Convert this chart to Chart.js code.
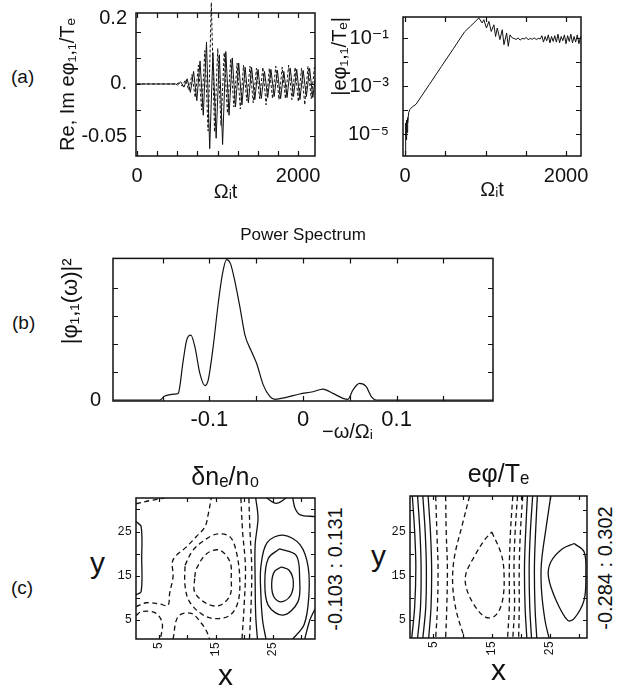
<!DOCTYPE html>
<html><head><meta charset="utf-8">
<script src="https://cdn.jsdelivr.net/npm/chart.js@4/dist/chart.umd.min.js"></script>
<style>
html,body{margin:0;padding:0;background:#fff;}
body{width:617px;height:688px;overflow:hidden;position:relative;font-family:'Liberation Sans',Arial,sans-serif;color:#111;}
canvas{position:absolute;}
.t{position:absolute;white-space:nowrap;line-height:1;}
.rot{transform:translate(-50%,-50%) rotate(-90deg);}
</style></head><body>
<div class="t" style="left:11px;top:67px;font-size:19px">(a)</div>
<div class="t" style="left:12px;top:313px;font-size:19px">(b)</div>
<div class="t" style="left:11px;top:578px;font-size:19px">(c)</div>
<div class="t" style="left:90px;top:548px;font-size:30px">y</div>
<div class="t" style="left:371px;top:541px;font-size:30px">y</div>
<div class="t rot" style="left:335px;top:569px;font-size:20px">-0.103 : 0.131</div>
<div class="t rot" style="left:605px;top:568px;font-size:20px">-0.284 : 0.302</div>
<canvas id="a1" width="280" height="205" style="left:40px;top:0px"></canvas>
<canvas id="a2" width="297" height="205" style="left:320px;top:0px"></canvas>
<canvas id="b" width="520" height="225" style="left:40px;top:220px"></canvas>
<canvas id="c1" width="260" height="237" style="left:60px;top:455px"></canvas>
<canvas id="c2" width="260" height="232" style="left:340px;top:455px"></canvas>
<script>
// ---------- (a) left: Re (solid) and Im (dashed) of e*phi_11/Te vs Omega_i t ----------
const reT = [0,480,503,543,583,623,663,703,743,783,823,863,903,943,983,1023,1063,1103,1143,1183,1223,1263,1303,1343,1383,1423,1463,1503,1543,1583,1623,1663,1703,1743,1783,1823,1863,1903,1943,1983,2023,2063,2103,2143,2183,2210];
const reV = [0,0,-0.001,0.002,-0.003,0.005,-0.008,0.012,-0.016,0.022,-0.030,0.040,-0.062,0.030,-0.052,0.028,-0.058,0.031,-0.030,0.025,-0.022,0.020,-0.020,0.016,-0.018,0.016,-0.015,0.014,-0.014,0.012,-0.013,0.014,-0.012,0.013,-0.014,0.012,-0.013,0.015,-0.012,0.014,-0.015,0.013,-0.012,0.015,-0.013,0.004];
const imT = [0,480,523,563,603,643,683,723,763,803,843,883,923,963,1003,1043,1083,1123,1163,1203,1243,1283,1323,1363,1403,1443,1483,1523,1563,1603,1643,1683,1723,1763,1803,1843,1883,1923,1963,2003,2043,2083,2123,2163,2203];
const imV = [0,0,0.001,-0.002,0.004,-0.006,0.009,-0.013,0.018,-0.025,0.032,-0.045,0.078,-0.046,0.034,-0.040,0.030,-0.028,0.024,-0.022,0.020,-0.024,0.018,-0.016,0.017,-0.018,0.015,-0.014,0.016,-0.020,0.015,-0.014,0.017,-0.015,0.016,-0.014,0.018,-0.015,0.016,-0.017,0.015,-0.020,0.017,-0.014,0.016];
const a1XTicks = [0,2000], a1XLabels = ['0','2000'];
const a1YTicks = [-0.05,0,0.0625], a1YLabels = ['-0.05','0.','0.2'];
const a1XMarks = [0,250,500,750,1000,1250,1500,1750,2000];
const a1YMarks = [-0.05,-0.025,0,0.025,0.05];

// ---------- (a) right: |e*phi_11/Te| (log) ----------
const absT = [0,4,8,12,16,20,25,30,36,45,60,90,137,300,450,600,741,812,917,958,979,1012,1042,1071,1104,1125,1146,1179,1208,1229,1262,1283,1304,1333,1354,1380,1405,1430,1455,1480,1505,1530,1555,1580,1605,1630,1655,1680,1700,1720,1740,1760,1780,1800,1820,1840,1860,1880,1900,1920,1940,1960,1980,2000,2020,2040,2060,2080,2100,2120,2140,2160,2180];
const absV = [1.5e-6,2e-5,3e-6,3e-5,6e-6,4e-5,1.2e-5,5e-5,3e-5,7.9e-5,1.1e-4,1.4e-4,1.8e-4,1.17e-3,6.6e-3,0.037,0.19,0.32,0.71,0.44,0.60,0.27,0.51,0.195,0.37,0.12,0.27,0.089,0.23,0.055,0.166,0.047,0.141,0.105,0.10,0.09,0.105,0.085,0.10,0.095,0.11,0.088,0.10,0.092,0.105,0.09,0.10,0.095,0.13,0.07,0.12,0.08,0.14,0.065,0.12,0.075,0.13,0.07,0.15,0.065,0.12,0.08,0.14,0.06,0.13,0.075,0.15,0.065,0.12,0.07,0.14,0.06,0.12];
const a2XTicks = [0,2000], a2XLabels = ['0','2000'];
const a2YTicks = [1e-5,1e-3,1e-1], a2YLabels = ['10\u207B\u2075','10\u207B\u00B3','10\u207B\u00B9'];
const a2XMarks = [0,500,1000,1500,2000];
const a2YMarks = [1e-5,1e-4,1e-3,1e-2,1e-1];

// ---------- (b) power spectrum ----------
const specX = [-0.203,-0.153,-0.1476,-0.135,-0.1333,-0.128,-0.1243,-0.1198,-0.1155,-0.1102,-0.1048,-0.1013,-0.096,-0.0906,-0.086,-0.0817,-0.0775,-0.073,-0.0674,-0.062,-0.0549,-0.0495,-0.0424,-0.0353,-0.030,-0.0178,-0.0036,0.0107,0.0214,0.032,0.0427,0.048,0.0533,0.0604,0.0676,0.073,0.0783,0.203];
const specY = [0,0,0.028,0.043,0.047,0.28,0.426,0.461,0.378,0.189,0.102,0.142,0.378,0.686,0.898,0.998,0.97,0.85,0.66,0.461,0.343,0.26,0.106,0.024,0.005,0.019,0.043,0.059,0.078,0.047,0.012,0.005,0.071,0.118,0.095,0.024,0,0];
const bXTicks = [-0.1,0,0.1], bXLabels = ['-0.1','0','0.1'];
const bYTicks = [0], bYLabels = ['0'];
const bXMarks = [-0.15,-0.1,-0.05,0,0.05,0.1,0.15];
const bYMarks = [0.2,0.4,0.6,0.8];

// ---------- (c) contour lines [x,y] ----------
const densPos = [
 [[26.5,17],[27.9,16.2],[28.6,13.6],[28.1,10.5],[26.5,9.1],[25.2,10.2],[24.8,13.2],[25.3,16],[26.5,17]],
 [[26.2,21.1],[29.1,19.6],[29.7,14.4],[29.4,9.1],[26.8,6.1],[24.2,8.3],[23.6,13.6],[24.2,18.9],[26.2,21.1]],
 [[28.5,0.7],[30.5,4],[31.3,10],[31.2,17],[29.8,22],[26.8,24.2],[24,22.5],[22.9,17],[22.9,11],[23.2,5],[23.8,0.7]],
 [[22,32.6],[22.4,28],[21.9,22],[21.9,14],[22,6],[22.3,0.7]],
 [[28.5,32.6],[28.9,30.3],[29.8,28.8],[32.4,28.4]],
 [[23.9,32.6],[25.6,31.4],[27.4,32.6]],
 [[30.6,0.7],[31.5,5],[32.4,7.5]],
 [[1,27.3],[1.9,26.1],[2.0,19],[1.9,11.4],[1,10.7]]
];
const densNeg = [
 [[11.3,14.7],[11.6,16.6],[13.4,20.0],[15.7,20.8],[17.5,18.1],[17.7,14.4],[17.5,10.6],[15.7,8.3],[13.4,8.7],[11.3,11.3],[11.3,14.7]],
 [[9.6,17.4],[11.0,20.8],[13.4,23.4],[15.4,24.5],[17.5,23.8],[18.6,20.4],[19.2,14.4],[18.9,9.1],[17.5,6.1],[15.1,5.3],[12.8,6.1],[10.4,9.1],[9.6,12.8],[9.6,17.4]],
 [[1,8.0],[2.8,8.9],[5.2,8.6],[6.6,8.3],[6.9,11.0],[7.5,14.8],[7.5,18.6],[9.9,21.6],[11.6,23.9],[13.1,26.1],[13.7,29.1],[14.2,32.6]],
 [[19.4,32.6],[19.7,25],[20.2,17],[20.0,9],[19.6,0.7]],
 [[20.8,32.6],[21.0,25],[21.3,17],[21.2,9],[20.9,0.7]],
 [[1,6.0],[2,6.9],[4.4,6.6],[5.6,4.3],[5.3,0.7]],
 [[7.5,0.7],[8.4,5.8],[10.7,6.5],[12.5,4.2],[13.4,2.4],[13.9,0.7]],
 [[1,31.3],[3.4,32.0],[6.0,32.6]]
];
const phiPos = [
 [[1.4,33.2],[1.8,25],[2.0,17],[1.8,8],[1.3,0.9]],
 [[2.3,33.2],[2.7,25],[2.9,17],[2.8,8],[2.3,0.9]],
 [[3.2,33.2],[3.6,25],[3.8,17],[3.7,8],[3.2,0.9]],
 [[4.1,33.2],[4.5,25],[4.7,17],[4.6,8],[4.2,0.9]],
 [[21.1,33.2],[20.8,25],[20.6,17],[20.7,8],[21.0,0.9]],
 [[22.0,33.2],[21.6,25],[21.4,17],[21.5,8],[21.8,0.9]],
 [[22.8,33.2],[22.5,25],[22.3,17],[22.4,8],[22.7,0.9]],
 [[25.1,33.2],[24.3,26],[23.5,18],[23.5,12],[24.1,5],[24.8,0.9]],
 [[29.1,22.4],[30.8,20.5],[31.1,15.6],[30.8,9.5],[29.1,5.3],[28,4.9],[26,9.5],[24.7,14.8],[25.1,18.2],[27.1,21.2],[29.1,22.4]]
];
const phiNeg = [
 [[5.4,33.2],[5.6,25],[5.8,17],[5.7,8],[5.4,0.9]],
 [[7.1,33.2],[7.2,25],[7.4,17],[7.3,8],[7.1,0.9]],
 [[11.2,33.2],[10.0,26.9],[8.6,19.3],[8.3,13.3],[8.9,7.2],[10.3,0.9]],
 [[15.0,25],[16.6,20.1],[17.1,15.6],[16.85,9.5],[15.7,6.1],[14.0,5.6],[12.0,8.4],[10.6,12.5],[10.6,15.6],[12.0,19.4],[13.7,23.1],[15.0,25]],
 [[18.6,33.2],[18.2,25],[18.0,17],[18.0,8],[17.7,0.9]],
 [[19.4,33.2],[19.0,25],[18.8,17],[18.9,8],[18.6,0.9]],
 [[20.3,33.2],[19.9,25],[19.7,17],[19.7,8],[19.6,0.9]]
];
const cTicks = [5,15,25], cLabels = ['5','15','25'];
const cMarks = [5,10,15,20,25,30];

// ---------- helpers ----------
const INK = '#111';
const FONT = "'Liberation Sans', 'DejaVu Sans', sans-serif";
const MONO = "'Liberation Mono', 'DejaVu Sans Mono', monospace";

const frameTicks = {
  id: 'frameTicks',
  afterDraw(chart, args, o) {
    if (!o || !o.on) return;
    const {ctx, chartArea: a, scales: {x, y}} = chart;
    const L = o.len || 5;
    ctx.save();
    ctx.strokeStyle = INK; ctx.lineWidth = 1.2;
    ctx.beginPath();
    (o.xs || []).forEach(v => {
      const p = Math.round(x.getPixelForValue(v)) + 0.5;
      if (p <= a.left + 1 || p >= a.right - 1) return;
      ctx.moveTo(p, a.bottom); ctx.lineTo(p, a.bottom - L);
      ctx.moveTo(p, a.top); ctx.lineTo(p, a.top + L);
    });
    (o.ys || []).forEach(v => {
      const p = Math.round(y.getPixelForValue(v)) + 0.5;
      if (p <= a.top + 1 || p >= a.bottom - 1) return;
      ctx.moveTo(a.left, p); ctx.lineTo(a.left + L, p);
      ctx.moveTo(a.right, p); ctx.lineTo(a.right - L, p);
    });
    ctx.stroke();
    ctx.lineWidth = 1.5;
    ctx.strokeRect(a.left, a.top, a.right - a.left, a.bottom - a.top);
    ctx.restore();
  }
};
Chart.register(frameTicks);

const pairs = (xs, ys) => xs.map((x, i) => ({x, y: ys[i]}));
const pts = l => l.map(p => ({x: p[0], y: p[1]}));

function scaleOpt(s, horizontal) {
  return {
    type: s.type || 'linear', min: s.min, max: s.max,
    grid: {display: false, drawTicks: false, tickLength: 0},
    border: {display: false},
    afterBuildTicks: sc => { sc.ticks = s.ticks.map(v => ({value: v})); },
    afterFit: horizontal
      ? (sc => { sc.height = s.size; sc.paddingLeft = 0; sc.paddingRight = 0; })
      : (sc => { sc.width = s.size; sc.paddingTop = 0; sc.paddingBottom = 0; }),
    ticks: {autoSkip: false, padding: s.pad, color: INK,
      font: {family: s.family || FONT, size: s.font},
      callback: (v, i) => s.labels[i],
      maxRotation: s.rot || 0, minRotation: s.rot || 0},
    title: {display: !!s.title, text: s.title, color: INK,
      font: {family: FONT, size: s.titleFont, lineHeight: s.titleLH || 1.2},
      padding: s.titlePad || 0, align: s.titleAlign || 'center'}
  };
}
function opts(o) {
  return {
    responsive: false, animation: false, events: [],
    layout: {padding: Object.assign({top: 0, right: 0, bottom: 0, left: 0}, o.padding)},
    plugins: {
      legend: {display: false}, tooltip: {enabled: false},
      title: o.title ? {display: true, text: o.title, color: INK, fullSize: false,
        font: {family: FONT, size: o.titleSize, weight: 'normal', lineHeight: 1.2}, padding: o.titlePad} : {display: false},
      frameTicks: Object.assign({on: true}, o.marks)
    },
    scales: {x: scaleOpt(o.x, true), y: scaleOpt(o.y, false)}
  };
}
const lineStyle = {showLine: true, pointRadius: 0, borderColor: INK, fill: false};

// (a) left
new Chart(document.getElementById('a1'), {
  type: 'scatter',
  data: {datasets: [
    Object.assign({data: pairs(reT, reV), borderWidth: 1, tension: 0}, lineStyle),
    Object.assign({data: pairs(imT, imV), borderWidth: 1, tension: 0, borderDash: [3, 2],
      clip: {left: 0, top: 14, right: 0, bottom: 0}}, lineStyle)
  ]},
  options: opts({
    padding: {top: 13, right: 5},
    x: {min: -12, max: 2210, ticks: a1XTicks, labels: a1XLabels, font: 20, pad: 8,
        title: '\u03A9\u1D62t', titleFont: 20, titlePad: {top: 0, bottom: 1}, size: 49},
    y: {min: -0.069, max: 0.068, ticks: a1YTicks, labels: a1YLabels, font: 20, pad: 9,
        title: 'Re, Im e\u03C6\u2081,\u2081/T\u2091', titleFont: 20, titlePad: {top: 16, bottom: 0}, size: 96},
    marks: {xs: a1XMarks, ys: a1YMarks}
  })
});

// (a) right
new Chart(document.getElementById('a2'), {
  type: 'scatter',
  data: {datasets: [Object.assign({data: pairs(absT, absV), borderWidth: 1, tension: 0}, lineStyle)]},
  options: opts({
    padding: {top: 17, right: 36},
    x: {min: -25, max: 2186, ticks: a2XTicks, labels: a2XLabels, font: 20, pad: 8,
        title: '\u03A9\u1D62t', titleFont: 20, titlePad: {top: 0, bottom: 3}, size: 49},
    y: {type: 'logarithmic', min: 1.26e-6, max: 0.78, ticks: a2YTicks, labels: a2YLabels, font: 20, pad: 14,
        title: '|e\u03C6\u2081,\u2081/T\u2091|', titleFont: 20, titlePad: {top: 8, bottom: 0}, titleAlign: 'end', size: 83},
    marks: {xs: a2XMarks, ys: a2YMarks}
  })
});

// (b)
new Chart(document.getElementById('b'), {
  type: 'scatter',
  data: {datasets: [Object.assign({data: pairs(specX, specY), borderWidth: 1.2, cubicInterpolationMode: 'monotone'}, lineStyle)]},
  options: opts({
    padding: {top: 0, right: 67},
    title: 'Power Spectrum', titleSize: 17, titlePad: {top: 5, bottom: 13},
    x: {min: -0.203, max: 0.203, ticks: bXTicks, labels: bXLabels, font: 22, pad: 6,
        title: '                \u2212\u03C9/\u03A9\u1D62', titleFont: 20, titlePad: {top: 0, bottom: 1}, size: 44},
    y: {min: -0.007, max: 1.007, ticks: bYTicks, labels: bYLabels, font: 20, pad: 12,
        title: '|\u03C6\u2081,\u2081(\u03C9)|\u00B2', titleFont: 22, titlePad: {top: 18, bottom: 0}, titleAlign: 'end', size: 73},
    marks: {xs: bXMarks, ys: bYMarks}
  })
});

// (c) contours
function contourSets(pos, neg) {
  return pos.map(l => Object.assign({data: pts(l), borderWidth: 1.3, tension: 0.35}, lineStyle))
    .concat(neg.map(l => Object.assign({data: pts(l), borderWidth: 1.3, tension: 0.35, borderDash: [5, 3.5]}, lineStyle)));
}
new Chart(document.getElementById('c1'), {
  type: 'scatter',
  data: {datasets: contourSets(densPos, densNeg)},
  options: opts({
    padding: {top: 0, right: 5},
    title: '\u03B4n\u2091/n\u2080', titleSize: 25, titlePad: {top: 8, bottom: 5},
    x: {min: 1, max: 32.4, ticks: cTicks, labels: cLabels, font: 12, family: MONO, pad: 3, rot: 90,
        title: 'x', titleFont: 30, titleLH: 1, titlePad: {top: 0, bottom: 0}, size: 53},
    y: {min: 0.7, max: 32.6, ticks: cTicks, labels: cLabels, font: 12, family: MONO, pad: 4, size: 76},
    marks: {xs: cMarks, ys: cMarks, len: 4}
  })
});
new Chart(document.getElementById('c2'), {
  type: 'scatter',
  data: {datasets: contourSets(phiPos, phiNeg)},
  options: opts({
    padding: {top: 0, right: 13},
    title: 'e\u03C6/T\u2091', titleSize: 25, titlePad: {top: 5, bottom: 6},
    x: {min: 1, max: 31.3, ticks: cTicks, labels: cLabels, font: 12, family: MONO, pad: 3, rot: 90,
        title: 'x', titleFont: 30, titleLH: 1, titlePad: {top: 0, bottom: 0}, size: 49},
    y: {min: 0.9, max: 33.2, ticks: cTicks, labels: cLabels, font: 12, family: MONO, pad: 4, size: 70},
    marks: {xs: cMarks, ys: cMarks, len: 4}
  })
});
</script>
</body></html>
